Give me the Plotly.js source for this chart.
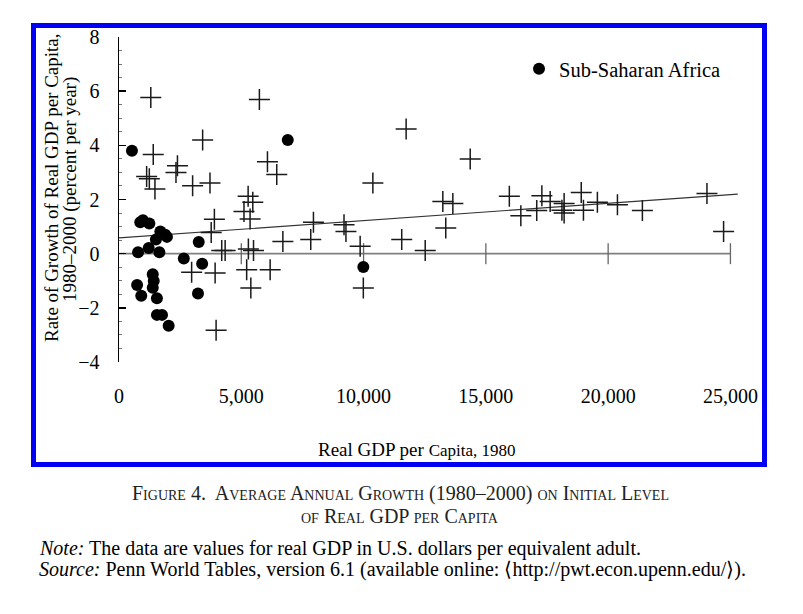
<!DOCTYPE html>
<html>
<head>
<meta charset="utf-8">
<script src="https://cdn.plot.ly/plotly-3.0.1.min.js"></script>
<style>
  html, body { margin: 0; padding: 0; background: #fff; }
  #chart { width: 803px; height: 614px; }
</style>
</head>
<body>
<div id="chart"></div>
<script>
// Sub-Saharan Africa: real GDP per capita 1980 (US$) and growth 1980–2000 (% per year)
const ssaGdp = [530, 870, 980, 1240, 1690, 1890, 1960, 1510, 1215, 780, 1650, 3260, 2650, 3400,
                1380, 1420, 1380, 740, 910, 1550, 3230, 1550, 1760, 2030, 6900, 9990];
const ssaGrowth = [3.80, 1.16, 1.23, 1.11, 0.82, 0.70, 0.62, 0.52, 0.21, 0.05, 0.05, 0.43, -0.18, -0.37,
                   -0.76, -1.01, -1.26, -1.16, -1.55, -1.65, -1.47, -2.26, -2.26, -2.66, 4.20, -0.49];

// All other countries
const otherGdp = [1300, 1400, 3420, 5740, 6070, 6450, 1130, 1240, 1470, 2390, 2330, 3010, 3720,
                  5280, 5470, 5110, 5360, 3900, 3770, 7950, 6700, 7840, 4200, 4340, 5290, 5500,
                  2970, 3930, 5220, 6180, 5390, 3970, 11740, 14360, 10380, 13240, 13650, 15960,
                  9200, 9280, 9860, 11560, 12520, 13360, 9990, 16430, 17080, 17290, 17630, 18200,
                  18200, 18110, 18900, 18990, 19560, 20380, 21400, 24040, 24720];
const otherGrowth = [5.77, 3.66, 4.20, 5.69, 3.39, 2.92, 2.85, 2.77, 2.39, 3.25, 3.00, 2.51, 2.61,
                     2.12, 1.90, 1.56, 1.28, 1.27, 0.78, 1.16, 0.45, 0.52, 0.12, 0.12, 0.17, 0.12,
                     -0.69, -0.71, -0.59, -0.59, -1.27, -2.83, 4.60, 3.50, 2.61, 1.93, 1.85, 2.12,
                     1.07, 0.82, 0.27, 0.52, 0.12, 0.95, -1.27, 1.40, 1.59, 2.14, 1.93, 1.85,
                     1.50, 1.60, 2.26, 1.60, 1.90, 1.81, 1.59, 2.22, 0.82];

// Fitted line endpoints
const fitGdp = [0, 25300];
const fitGrowth = [0.58, 2.20];

// Reference line at zero growth with ticks every 5,000
const zeroGdp = [0, 25000];
const zeroGrowth = [0, 0];
const zeroTickGdp = [5000, 10000, 15000, 20000, 25000];
const zeroTickGrowth = [0, 0, 0, 0, 0];

const xTickVals = [0, 5000, 10000, 15000, 20000, 25000];
const xTickText = ['0', '5,000', '10,000', '15,000', '20,000', '25,000'];
const yTickVals = [-4, -2, 0, 2, 4, 6, 8];

const W = 803, H = 614;
const M = { l: 119, r: 53, t: 37, b: 252 };
const PW = W - M.l - M.r, PH = H - M.t - M.b;
const px = v => (v - M.l) / PW;          // pixel column -> paper x
const py = v => (H - M.b - v) / PH;      // pixel row -> paper y

const SERIF = 'Liberation Serif, Times New Roman, serif';

const traces = [
  {
    x: zeroGdp, y: zeroGrowth, mode: 'lines', showlegend: false, hoverinfo: 'skip',
    line: { color: '#808080', width: 1.6 }
  },
  {
    x: zeroTickGdp, y: zeroTickGrowth, mode: 'markers', showlegend: false, hoverinfo: 'skip',
    marker: { symbol: 'line-ns', size: 15, color: '#666', line: { color: '#666', width: 1.3 } }
  },
  {
    x: fitGdp, y: fitGrowth, mode: 'lines', showlegend: false, hoverinfo: 'skip',
    line: { color: '#333', width: 1.2 }
  },
  {
    x: otherGdp, y: otherGrowth, mode: 'markers', name: 'Other', showlegend: false,
    marker: { symbol: 'cross-thin-open', size: 15, color: '#1a1a1a', line: { color: '#1a1a1a', width: 1.5 } }
  },
  {
    x: ssaGdp, y: ssaGrowth, mode: 'markers', name: 'Sub-Saharan Africa',
    marker: { symbol: 'circle', size: 12, color: '#000' }
  }
];

const layout = {
  width: W, height: H,
  margin: M,
  paper_bgcolor: '#fff', plot_bgcolor: '#fff',
  font: { family: SERIF, color: '#000' },
  showlegend: true,
  legend: {
    x: px(519), y: py(49), xanchor: 'left', yanchor: 'top',
    bgcolor: 'rgba(0,0,0,0)', borderwidth: 0,
    font: { family: SERIF, size: 20.5, color: '#000' }
  },
  xaxis: {
    range: [0, 25800],
    showline: false, showgrid: false, zeroline: false, ticks: '',
    tickvals: xTickVals, ticktext: xTickText,
    ticklabelstandoff: 20,
    tickfont: { family: SERIF, size: 20, color: '#000' }
  },
  yaxis: {
    range: [-4, 8],
    showline: true, linecolor: '#000', linewidth: 1.5,
    showgrid: false, zeroline: false,
    ticks: 'inside', ticklen: 7, tickwidth: 1.5, tickcolor: '#000',
    tickvals: yTickVals,
    ticklabelstandoff: 14,
    tickfont: { family: SERIF, size: 20, color: '#000' },
    minor: { dtick: 0.5, ticks: 'inside', ticklen: 3, tickcolor: '#777', tickwidth: 1 }
  },
  shapes: [
    {
      type: 'rect', xref: 'paper', yref: 'paper',
      x0: px(33.5), x1: px(764.5), y0: py(464.5), y1: py(25.5),
      line: { color: 'rgb(0,0,245)', width: 5 }, fillcolor: 'rgba(0,0,0,0)', layer: 'above'
    }
  ],
  annotations: [
    {
      xref: 'paper', yref: 'paper', x: px(51), y: py(188), textangle: -90,
      text: 'Rate of Growth of Real GDP per Capita,', showarrow: false,
      xanchor: 'center', yanchor: 'middle',
      font: { family: SERIF, size: 19, color: '#000' }
    },
    {
      xref: 'paper', yref: 'paper', x: px(70), y: py(190), textangle: -90,
      text: '1980–2000 (percent per year)', showarrow: false,
      xanchor: 'center', yanchor: 'middle',
      font: { family: SERIF, size: 19, color: '#000' }
    },
    {
      xref: 'paper', yref: 'paper', x: px(417), y: py(449),
      text: 'Real GDP per <span style="font-size:17px">Capita, 1980</span>', showarrow: false,
      xanchor: 'center', yanchor: 'middle',
      font: { family: SERIF, size: 19, color: '#000' }
    },
    {
      xref: 'paper', yref: 'paper', x: px(400), y: py(493),
      text: 'Figure 4.  Average Annual Growth (1980–2000) on Initial Level', showarrow: false,
      xanchor: 'center', yanchor: 'middle',
      font: { family: SERIF, size: 20, color: '#222', variant: 'small-caps' }
    },
    {
      xref: 'paper', yref: 'paper', x: px(400), y: py(516),
      text: 'of Real GDP per Capita', showarrow: false,
      xanchor: 'center', yanchor: 'middle',
      font: { family: SERIF, size: 20, color: '#222', variant: 'small-caps' }
    },
    {
      xref: 'paper', yref: 'paper', x: px(37), y: py(548),
      text: '<i>Note:</i> The data are values for real GDP in U.S. dollars per equivalent adult.',
      showarrow: false, xanchor: 'left', yanchor: 'middle',
      font: { family: SERIF, size: 20, color: '#000' }
    },
    {
      xref: 'paper', yref: 'paper', x: px(37), y: py(569),
      text: '<i>Source:</i> Penn World Tables, version 6.1 (available online: \u27E8http://pwt.econ.upenn.edu/\u27E9).',
      showarrow: false, xanchor: 'left', yanchor: 'middle',
      font: { family: SERIF, size: 20, color: '#000' }
    }
  ]
};

Plotly.newPlot('chart', traces, layout, { staticPlot: true, displayModeBar: false });
</script>
</body>
</html>
